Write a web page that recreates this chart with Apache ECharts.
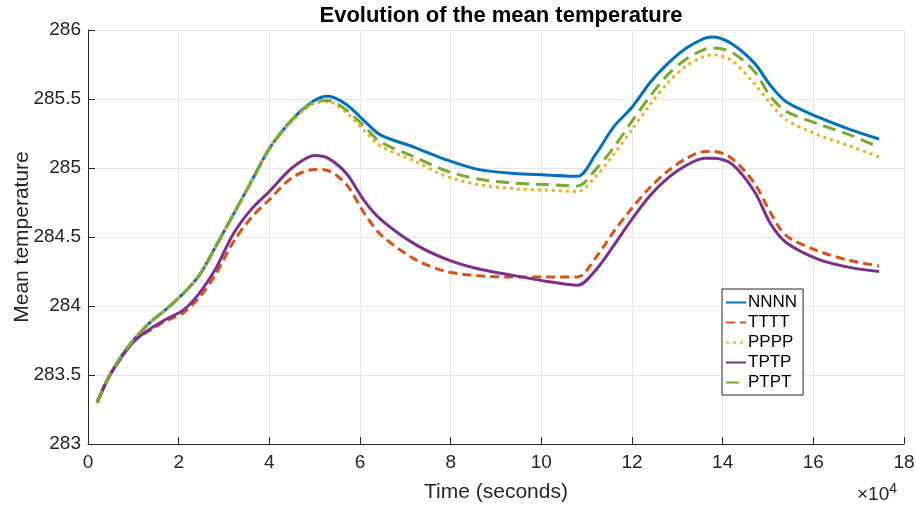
<!DOCTYPE html>
<html>
<head>
<meta charset="utf-8">
<script src="https://cdn.jsdelivr.net/npm/echarts@6/dist/echarts.min.js"></script>
<style>
  html, body { margin: 0; padding: 0; background: #fff; }
  #main { width: 916px; height: 509px; }
</style>
</head>
<body>
<div id="main"></div>
<script>
// time in seconds
var times = [2000, 4500, 7000, 9000, 11000, 14000, 17000, 21000, 24500, 28000,
    32000, 36000, 40000, 45000, 50000, 53000, 57000, 61000, 64500, 72000,
    79000, 86000, 94000, 101000, 108000, 112000, 116000, 120000, 124000, 128000,
    132000, 136000, 138000, 142000, 147000, 150500, 154000, 161000, 168000, 174500];

var nnnn = [283.30, 283.48, 283.62, 283.71, 283.79, 283.89, 283.97, 284.09, 284.22, 284.42,
    284.66, 284.90, 285.14, 285.35, 285.49, 285.52, 285.46, 285.34, 285.24, 285.15,
    285.06, 284.99, 284.96, 284.95, 284.94, 285.10, 285.30, 285.44, 285.62, 285.76,
    285.87, 285.94, 285.95, 285.90, 285.76, 285.60, 285.48, 285.37, 285.28, 285.21];

var tttt = [283.30, 283.48, 283.61, 283.70, 283.77, 283.83, 283.89, 283.95, 284.06, 284.22,
    284.46, 284.64, 284.77, 284.93, 284.99, 284.98, 284.88, 284.67, 284.52, 284.34,
    284.25, 284.22, 284.21, 284.21, 284.21, 284.35, 284.54, 284.71, 284.86, 284.98,
    285.07, 285.12, 285.12, 285.07, 284.89, 284.68, 284.51, 284.40, 284.33, 284.29];

var pppp = [283.30, 283.48, 283.62, 283.71, 283.79, 283.89, 283.97, 284.09, 284.22, 284.42,
    284.66, 284.90, 285.14, 285.34, 285.47, 285.48, 285.40, 285.27, 285.16, 285.05,
    284.94, 284.88, 284.85, 284.84, 284.83, 284.94, 285.10, 285.28, 285.46, 285.62,
    285.74, 285.81, 285.82, 285.78, 285.61, 285.47, 285.35, 285.24, 285.16, 285.08];

var tptp = [283.30, 283.48, 283.61, 283.70, 283.77, 283.84, 283.90, 283.97, 284.09, 284.26,
    284.52, 284.70, 284.83, 285.00, 285.09, 285.07, 284.96, 284.76, 284.63, 284.45,
    284.34, 284.27, 284.22, 284.18, 284.15, 284.26, 284.44, 284.63, 284.80, 284.93,
    285.02, 285.07, 285.07, 285.03, 284.83, 284.60, 284.46, 284.34, 284.28, 284.25];

var ptpt = [283.30, 283.48, 283.62, 283.71, 283.79, 283.89, 283.97, 284.09, 284.22, 284.42,
    284.66, 284.90, 285.14, 285.35, 285.48, 285.49, 285.42, 285.30, 285.19, 285.08,
    284.98, 284.92, 284.89, 284.88, 284.87, 284.99, 285.15, 285.34, 285.52, 285.68,
    285.79, 285.86, 285.87, 285.84, 285.70, 285.52, 285.41, 285.32, 285.24, 285.15];

var names = ['NNNN', 'TTTT', 'PPPP', 'TPTP', 'PTPT'];
var colors = ['#0072BD', '#D95319', '#EDB120', '#7E2F8E', '#77AC30'];
var dashes = ['solid', [9, 5], [3, 4], 'solid', [13, 7]];
var values = [nnnn, tttt, pppp, tptp, ptpt];

function pairs(vals) {
    return times.map(function (t, i) { return [t, vals[i]]; });
}

var series = names.map(function (n, i) {
    return {
        name: n,
        type: 'line',
        data: pairs(values[i]),
        showSymbol: false,
        symbol: 'none',
        smooth: 0.3,
        lineStyle: { color: colors[i], width: 3, type: dashes[i] },
        itemStyle: { color: colors[i] }
    };
});

var font = 'Helvetica, Arial, "Liberation Sans", sans-serif';

var chart = echarts.init(document.getElementById('main'));
chart.setOption({
    animation: false,
    textStyle: { fontFamily: font },
    title: {
        text: 'Evolution of the mean temperature',
        left: 496,
        textAlign: 'center',
        top: 0,
        textStyle: { fontSize: 22, fontWeight: 'bold', color: '#000', fontFamily: font }
    },
    grid: { left: 88, right: 12, top: 30, bottom: 65, outerBoundsMode: 'none' },
    legend: {
        orient: 'vertical',
        left: 722,
        top: 289,
        itemWidth: 20,
        itemHeight: 10,
        itemGap: 3,
        padding: [5, 6, 4, 3],
        backgroundColor: '#fff',
        borderColor: '#262626',
        borderWidth: 1,
        itemStyle: { opacity: 0 },
        textStyle: { fontSize: 17, color: '#000', padding: [0, 0, 0, -3] },
        data: names
    },
    xAxis: {
        type: 'value',
        min: 0,
        max: 180000,
        interval: 20000,
        name: 'Time (seconds)',
        nameLocation: 'middle',
        nameGap: 38,
        nameMoveOverlap: false,
        nameTextStyle: { fontSize: 21, color: '#262626' },
        axisLine: { show: true, lineStyle: { color: '#262626', width: 1 } },
        axisTick: { show: true, inside: true, length: 7, lineStyle: { color: '#262626' } },
        axisLabel: {
            fontSize: 19, color: '#262626', margin: 9,
            formatter: function (v) { return String(v / 10000); }
        },
        splitLine: { show: true, lineStyle: { color: '#e6e6e6', width: 1 } }
    },
    yAxis: {
        type: 'value',
        min: 283,
        max: 286,
        interval: 0.5,
        name: 'Mean temperature',
        nameLocation: 'middle',
        nameGap: 55,
        nameMoveOverlap: false,
        nameTextStyle: { fontSize: 21, color: '#262626' },
        axisLine: { show: true, lineStyle: { color: '#262626', width: 1 } },
        axisTick: { show: true, inside: true, length: 7, lineStyle: { color: '#262626' } },
        axisLabel: { fontSize: 19, color: '#262626', margin: 7 },
        splitLine: { show: true, lineStyle: { color: '#e6e6e6', width: 1 } }
    },
    graphic: [{
        type: 'text',
        left: 857,
        top: 482,
        style: {
            text: '×10{s|4}',
            rich: { s: { fontSize: 14, verticalAlign: 'top', padding: [0, 0, 12, 0] } },
            fontSize: 19,
            fill: '#262626',
            fontFamily: font
        }
    }],
    series: series
});
</script>
</body>
</html>
